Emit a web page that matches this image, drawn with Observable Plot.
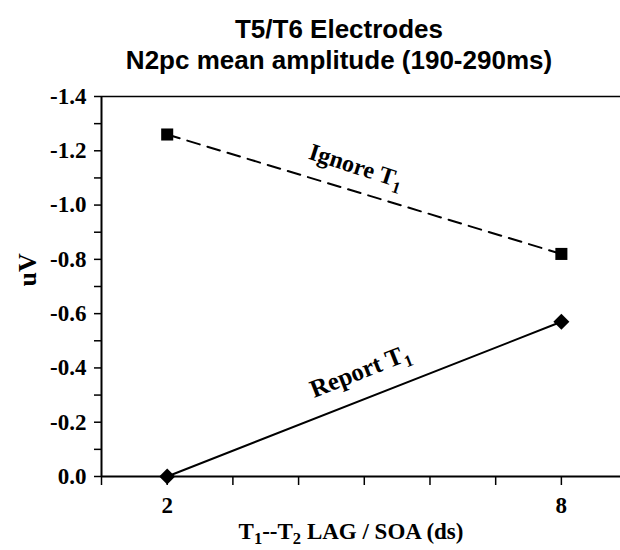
<!DOCTYPE html>
<html><head><meta charset="utf-8">
<script src="https://cdn.jsdelivr.net/npm/d3@7"></script>
<script src="https://cdn.jsdelivr.net/npm/@observablehq/plot@0.6"></script>
<style>
body{margin:0;background:#fff;}
#title{height:84px;box-sizing:border-box;padding-top:14px;padding-left:58px;text-align:center;font-family:"Liberation Sans",Arial,sans-serif;font-weight:bold;font-size:26px;line-height:31px;color:#000;white-space:nowrap;}
#chart svg{display:block;}
</style></head><body>
<div id="title">T5/T6 Electrodes<br>N2pc mean amplitude (190-290ms)</div>
<div id="chart"></div>
<script>
// ---- data ----
const lags = [2, 8];
const ignoreT1 = [-1.26, -0.82];
const reportT1 = [0.0, -0.57];
const seriesNames = ["Ignore T_1", "Report T_1"];
const yTicks = [0, -0.2, -0.4, -0.6, -0.8, -1.0, -1.2, -1.4];
const yMinorTicks = [-0.1, -0.3, -0.5, -0.7, -0.9, -1.1, -1.3];
const xTicks = [1, 2, 3, 4, 5, 6, 7, 8];
const xTickLabels = [2, 8];
const xLabel = "T_1--T_2 LAG / SOA (ds)";
const yLabel = "uV";

const ignoreRows = lags.map((l, i) => ({lag: l, value: ignoreT1[i], series: seriesNames[0]}));
const reportRows = lags.map((l, i) => ({lag: l, value: reportT1[i], series: seriesNames[1]}));
const mid = rows => ({lag: d3.mean(rows, d => d.lag), value: d3.mean(rows, d => d.value), series: rows[0].series});

const serif = "'Liberation Serif','Times New Roman',serif";

const svg = Plot.plot({
  width: 620,
  height: 465,
  marginTop: 12,
  marginBottom: 73,
  marginLeft: 101,
  marginRight: 0,
  style: {fontFamily: serif, fontWeight: "bold", fontSize: "23px", color: "#000", background: "#fff", overflow: "visible"},
  x: {domain: [1, 8.9]},
  y: {domain: [0, -1.4]},
  marks: [
    Plot.ruleY([yTicks[yTicks.length - 1]], {stroke: "#000", strokeWidth: 1.5}),
    Plot.ruleY([yTicks[0]], {stroke: "#000", strokeWidth: 2}),
    Plot.ruleX([xTicks[0]], {stroke: "#000", strokeWidth: 2}),
    Plot.axisY(yTicks, {tickSize: 7, tickPadding: 8, tickFormat: d => d.toFixed(1), strokeWidth: 1.5, label: null}),
    Plot.axisY(yMinorTicks, {tickSize: 7, tickFormat: () => "", strokeWidth: 1.5, label: null}),
    Plot.axisX(xTicks, {tickSize: 9, tickPadding: 11, tickFormat: d => xTickLabels.includes(d) ? String(d) : "", strokeWidth: 1.5, label: null}),
    Plot.line(ignoreRows, {x: "lag", y: "value", stroke: "#000", strokeWidth: 2, strokeDasharray: "13,8"}),
    Plot.line(reportRows, {x: "lag", y: "value", stroke: "#000", strokeWidth: 2}),
    Plot.dot(ignoreRows, {x: "lag", y: "value", symbol: "square", fill: "#000", stroke: null, r: 6.8}),
    Plot.dot(reportRows, {x: "lag", y: "value", symbol: "diamond2", fill: "#000", stroke: null, r: 7.2}),
    Plot.text([mid(ignoreRows)], {x: "lag", y: "value", text: "series", rotate: 18, dx: -8, dy: -28, fontSize: 24}),
    Plot.text([mid(reportRows)], {x: "lag", y: "value", text: "series", rotate: -21.5, dx: -4, dy: -28, fontSize: 25}),
    Plot.text([yLabel], {frameAnchor: "left", text: d => d, rotate: -90, dx: -74, fontSize: 26}),
    Plot.text([xLabel], {frameAnchor: "bottom", text: d => d, dx: -10, dy: 62, fontSize: 23})
  ]
});

// subscripts: "X_1" -> X with subscript 1
d3.select(svg).selectAll("text").each(function() {
  const t = this.textContent;
  if (!t.includes("_")) return;
  const fs = parseFloat(getComputedStyle(this).fontSize) || 23;
  const parts = t.split(/_(\d)/);
  const sel = d3.select(this);
  sel.text(null);
  parts.forEach((p, i) => {
    if (!p) return;
    if (i % 2 === 1) {
      sel.append("tspan").attr("dy", fs * 0.25).attr("font-size", fs * 0.72).text(p);
    } else if (i > 0) {
      sel.append("tspan").attr("dy", -fs * 0.25).text(p);
    } else {
      sel.append("tspan").text(p);
    }
  });
});

document.getElementById("chart").appendChild(svg);
</script>
</body></html>
